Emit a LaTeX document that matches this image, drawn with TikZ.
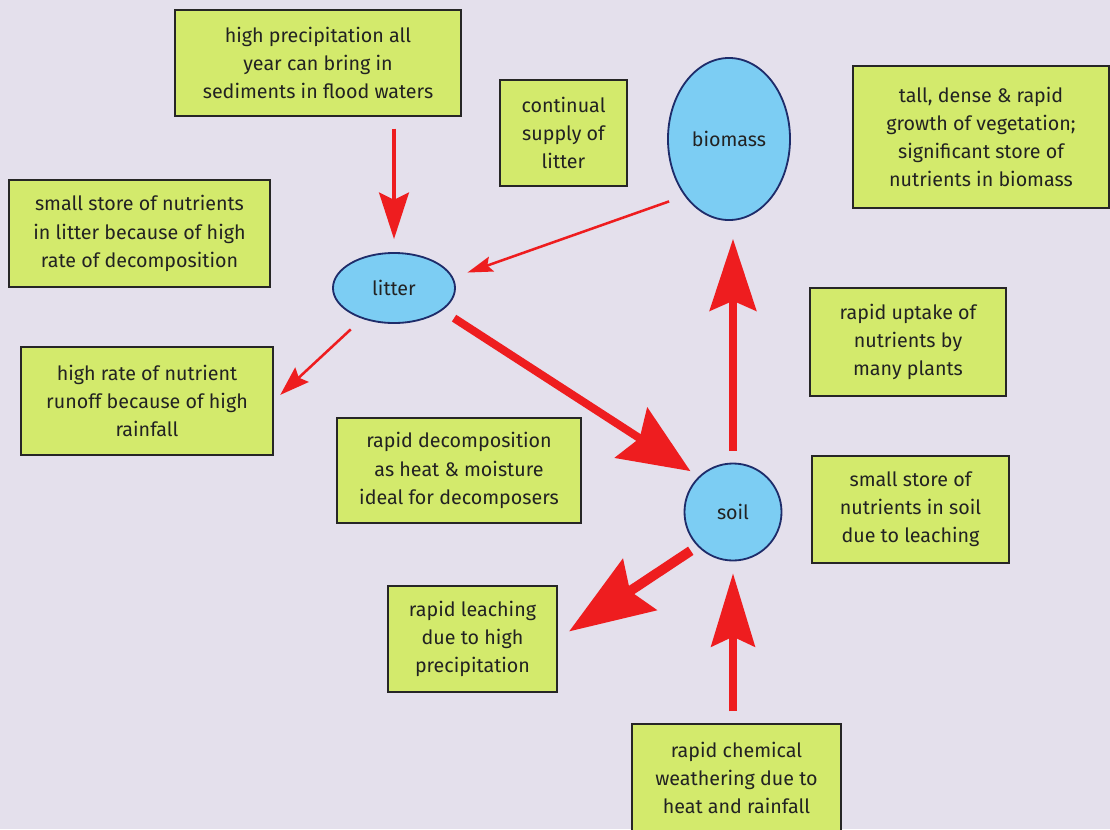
\documentclass[tikz,border=0pt]{standalone}
\usepackage{fontspec}
\setmainfont{Fira Sans}
\usetikzlibrary{arrows.meta, shapes.geometric}
\definecolor{pagebg}{HTML}{E4E0EC}
\definecolor{boxgreen}{HTML}{D3EA6C}
\definecolor{poolblue}{HTML}{7CCDF3}
\definecolor{pooledge}{HTML}{1E2C6A}
\definecolor{flowred}{HTML}{EE1D1F}
\definecolor{boxtext}{HTML}{222222}
\begin{document}
\begin{tikzpicture}[x=0.025cm, y=-0.025cm,
    every node/.style={font=\fontsize{14}{20}\selectfont, text=boxtext, align=center, inner sep=0pt},
    factbox/.style 2 args={draw=black!85, line width=0.9pt, fill=boxgreen, minimum width=#1, minimum height=#2},
    pool/.style={ellipse, draw=pooledge, line width=1.3pt, fill=poolblue},
    flow/.style n args={4}{draw=flowred, line width=#1, -{Stealth[length=#2, width=#3, inset=#4]}}]
    % page
    \useasboundingbox (0,0) rectangle (1110,829);
    \clip (0,0) rectangle (1110,829);
    \fill[pagebg] (0,0) rectangle (1110,829);
    % stores
    \node[pool, minimum width=3.05cm, minimum height=1.75cm] (litter) at (394,288) {litter};
    \node[pool, minimum width=3.05cm, minimum height=4.05cm] (biomass) at (729,139) {biomass};
    \node[pool, minimum width=2.425cm, minimum height=2.425cm] (soil) at (733,512) {soil};
    % notes
    \node[factbox={7.15cm}{2.65cm}] (floods) at (318,63) {high precipitation all\\year can bring in\\sediments in flood waters};
    \node[factbox={3.175cm}{2.65cm}] (supply) at (563.5,133) {continual\\supply of\\litter};
    \node[factbox={6.4cm}{3.55cm}] (growth) at (981,137) {tall, dense \& rapid\\growth of vegetation;\\significant store of\\nutrients in biomass};
    \node[factbox={6.525cm}{2.675cm}] (litstore) at (139.5,233.5) {small store of nutrients\\in litter because of high\\rate of decomposition};
    \node[factbox={6.3cm}{2.7cm}] (runoff) at (147,401) {high rate of nutrient\\runoff because of high\\rainfall};
    \node[factbox={6.1cm}{2.625cm}] (decomp) at (459,470.5) {rapid decomposition\\as heat \& moisture\\ideal for decomposers};
    \node[factbox={4.9cm}{2.7cm}] (uptake) at (908,342) {rapid uptake of\\nutrients by\\many plants};
    \node[factbox={4.925cm}{2.675cm}] (soilstore) at (910.5,509.5) {small store of\\nutrients in soil\\due to leaching};
    \node[factbox={4.225cm}{2.65cm}] (leach) at (472.5,639) {rapid leaching\\due to high\\precipitation};
    \node[factbox={5.225cm}{2.7cm}] (weather) at (736.5,778) {rapid chemical\\weathering due to\\heat and rainfall};
    % flows
    \draw[flow={3.5pt}{33pt}{21pt}{5pt}, shorten <=8.5pt, shorten >=9.2pt] (floods.south -| litter.north) -- (litter.north);
    \draw[flow={1.8pt}{18pt}{11pt}{3pt}, shorten <=11.6pt, shorten >=10.7pt] (biomass.232) -- (litter.10);
    \draw[flow={1.8pt}{21pt}{14pt}{3pt}, shorten <=11pt, shorten >=6.4pt] (litter.224) -- (runoff.east);
    \draw[flow={5.7pt}{50pt}{42pt}{7pt}, shorten <=10pt, shorten >=7pt] (litter.-25) -- (soil.134);
    \draw[flow={5pt}{51pt}{33pt}{7pt}, shorten <=8.5pt, shorten >=12.8pt] (soil.north) -- (soil.north |- biomass.south);
    \draw[flow={7pt}{60pt}{43pt}{8pt}, shorten <=5.7pt, shorten >=9.7pt] (soil.224) -- (leach.east);
    \draw[flow={5pt}{52pt}{31pt}{7pt}, shorten <=8.5pt, shorten >=8.5pt] (weather.north -| soil.south) -- (soil.south);
\end{tikzpicture}
\end{document}
